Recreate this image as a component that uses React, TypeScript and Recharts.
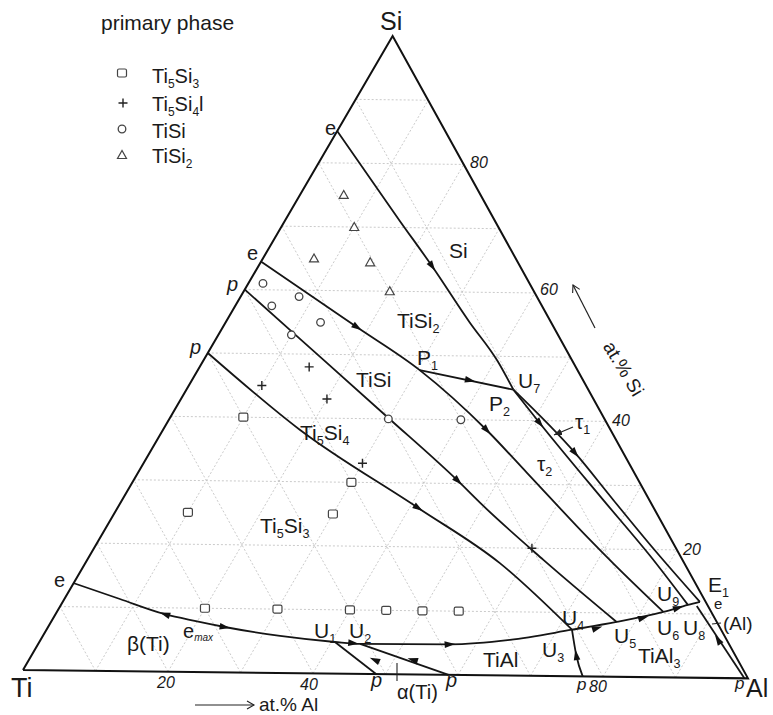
import React from 'react';
import { ScatterChart, Scatter, XAxis, YAxis } from 'recharts';

const W = 773;
const H = 715;
// where the triangle sits on the page; the scan is tilted a little
const X0 = 23;
const Y0 = 670;
const KX = 725.05;
const KY = 737;
const TILT = (0.65 * Math.PI) / 180;
const FONT = '"Liberation Sans", Arial, Helvetica, sans-serif';

// compositions are [at.% Al, at.% Si], Ti is the rest
type P = [number, number];

const CORNERS: P[] = [[0, 0], [100, 0], [0, 100], [0, 0]];
const GRID_STEPS = [10, 20, 30, 40, 50, 60, 70, 80, 90];

// monovariant lines
const E_TO_U7: P[] = [[0, 85], [15.8, 71], [23.8, 64], [33.4, 55.3], [40.3, 49.3], [44.8, 44.8]];
const E_P1_U6: P[] = [[0, 64.4], [18.4, 54.3], [30.4, 47.7], [44.4, 38.4], [53.3, 31.8], [67.3, 21.4], [72.3, 17.8], [83.1, 10.25]];
const P1_U7: P[] = [[30.4, 47.7], [44.8, 44.8]];
const TAU1_LEFT: P[] = [[44.8, 44.8], [51.1, 39.6], [65.9, 27.7], [76.7, 19.1], [85.9, 11.4]];
const TAU1_RIGHT: P[] = [[44.8, 44.8], [58.3, 35.0], [67.3, 27.7], [77.0, 19.9], [87.3, 11.9]];
const P60_U5: P[] = [[0, 60], [10.1, 53.3], [29.7, 40.3], [44.5, 30.4], [49.3, 27.0], [62.5, 18.2], [77.5, 8.6]];
const P50_U4: P[] = [[0, 50], [18.8, 38.1], [41.2, 26.1], [56.8, 17.6], [72.0, 7.3]];
const LOW_VALLEY: P[] = [
  [0, 13.7], [7.6, 11.3], [15.0, 9.0], [19.6, 8.0], [24.2, 7.1], [32.5, 5.8], [40.5, 4.95], [44.1, 4.7],
  [56.4, 4.8], [64.3, 5.6], [72.0, 7.3], [77.5, 8.6], [83.1, 10.25], [85.9, 11.4], [87.3, 11.9],
];
const U1_P: P[] = [[40.5, 4.95], [48.7, 0]];
const U2_P: P[] = [[44.1, 4.7], [58.7, 0]];
const U3_P: P[] = [[72.0, 7.3], [74.6, 3.35], [77.2, 0]];
const U8_P: P[] = [[87.2, 11.25], [99.5, 0]];

// arrow heads: [Al, Si, towards Al, towards Si]
const ARROWS: [number, number, number, number][] = [
  [23.8, 64, 33.4, 55.3],
  [18.4, 54.3, 30.4, 47.7],
  [38.1, 46.2, 44.8, 44.8],
  [44.4, 38.4, 53.3, 31.8],
  [51.1, 39.6, 65.9, 27.7],
  [58.3, 35.0, 67.3, 27.7],
  [44.5, 30.4, 49.3, 27.0],
  [41.2, 26.1, 56.8, 17.6],
  [15.0, 9.0, 7.6, 11.3],
  [24.2, 7.1, 32.5, 5.8],
  [43.1, 4.8, 44.1, 4.7],
  [56.4, 4.8, 64.3, 5.6],
  [75.3, 7.6, 77.5, 8.6],
  [80.8, 9.3, 83.1, 10.25],
  [84.8, 10.9, 85.9, 11.4],
  [47.4, 2.2, 40.5, 4.95],
  [52.6, 2.3, 44.1, 4.7],
  [74.6, 3.35, 72.0, 7.3],
  [92.8, 6.0, 87.2, 11.25],
];

// primary phase of the alloys
const TI5SI3: P[] = [[10, 40], [10, 25], [30, 25], [30, 30], [20, 10], [30, 10], [40, 10], [45, 10], [50, 10], [55, 10]];
const TI5SI4: P[] = [[10, 45], [15, 48], [20, 43], [30, 33], [60, 20]];
const TISI: P[] = [[2, 61], [5, 57.5], [8, 59], [13, 55], [10, 53], [30, 40], [40, 40]];
const TISI2: P[] = [[6, 75], [10, 70], [7, 65], [15, 64.5], [20, 60]];

const toXY = (al: number, si: number) => {
  const a = al / 100;
  const s = si / 100;
  const x = a + s / 2;
  const y = (s * Math.sqrt(3)) / 2;
  return {
    x: x * Math.cos(TILT) + y * Math.sin(TILT),
    y: -x * Math.sin(TILT) + y * Math.cos(TILT),
  };
};
const pts = (list: P[]) => list.map(([al, si]) => toXY(al, si));

const gridLines: P[][] = GRID_STEPS.flatMap((v) => [
  [[0, v], [100 - v, v]] as P[],
  [[v, 0], [v, 100 - v]] as P[],
  [[100 - v, 0], [0, 100 - v]] as P[],
]);

const arrowData = ARROWS.map(([al, si, tal, tsi]) => {
  const p = toXY(al, si);
  const q = toXY(tal, tsi);
  const ang = (Math.atan2(-(q.y - p.y) * KY, (q.x - p.x) * KX) * 180) / Math.PI;
  return { ...p, ang };
});

const Blank = () => <g />;
const ArrowHead = (p: any) => (
  <path d="M5.5,0 L-5,-3.3 L-5,3.3 Z" transform={`translate(${p.cx},${p.cy}) rotate(${p.payload.ang})`} fill="#111" />
);
const MARK = '#444';
const SquareMark = (p: any) => (
  <rect x={p.cx - 4.5} y={p.cy - 4} width={9} height={8} rx={1.5} fill="#fff" stroke={MARK} strokeWidth={1.2} />
);
const PlusMark = (p: any) => (
  <path d={`M${p.cx - 4.5},${p.cy} H${p.cx + 4.5} M${p.cx},${p.cy - 4.5} V${p.cy + 4.5}`} stroke="#222" strokeWidth={1.4} />
);
const CircleMark = (p: any) => <circle cx={p.cx} cy={p.cy} r={3.8} fill="#fff" stroke={MARK} strokeWidth={1.3} />;
const TriMark = (p: any) => (
  <path d={`M${p.cx},${p.cy - 4.5} L${p.cx - 4.5},${p.cy + 3.5} L${p.cx + 4.5},${p.cy + 3.5} Z`} fill="#fff" stroke={MARK} strokeWidth={1.2} />
);

const lineSeries = (key: string, list: P[], opts: { w?: number; color?: string; dash?: string; curve?: any } = {}) => (
  <Scatter
    key={key}
    data={pts(list)}
    shape={Blank}
    isAnimationActive={false}
    lineJointType={opts.curve || 'linear'}
    line={{
      stroke: opts.color || '#151515',
      strokeWidth: opts.w || 1.8,
      strokeDasharray: opts.dash,
      fill: 'none',
    }}
  />
);

function Rich({ x, y, text, size = 21, italic = false, anchor = 'start', transform }: any) {
  const parts: string[] = text.split(/(_\{[^}]*\})/).filter(Boolean);
  const d = size * 0.24;
  return (
    <text x={x} y={y} fontSize={size} fontStyle={italic ? 'italic' : 'normal'} textAnchor={anchor} transform={transform} fill="#1a1a1a">
      {parts.map((s, i) => {
        if (s.startsWith('_{')) {
          return (
            <tspan key={i} fontSize={size * 0.6} dy={d}>
              {s.slice(2, -1)}
            </tspan>
          );
        }
        const prevSub = i > 0 && parts[i - 1].startsWith('_{');
        return (
          <tspan key={i} dy={prevSub ? -d : 0}>
            {s}
          </tspan>
        );
      })}
    </text>
  );
}

function Overlay() {
  return (
    <svg width={W} height={H} style={{ position: 'absolute', left: 0, top: 0, pointerEvents: 'none' }} fontFamily={FONT}>
      <defs>
        <marker id="open" markerWidth="10" markerHeight="10" refX="8" refY="5" orient="auto" markerUnits="userSpaceOnUse">
          <path d="M1,1 L8,5 L1,9" fill="none" stroke="#222" strokeWidth={1.1} />
        </marker>
        <marker id="solid" markerWidth="10" markerHeight="10" refX="8" refY="5" orient="auto" markerUnits="userSpaceOnUse">
          <path d="M0,1.5 L8,5 L0,8.5 Z" fill="#222" />
        </marker>
      </defs>

      {/* legend */}
      <Rich x={101} y={30} text="primary phase" size={21} />
      <SquareMark cx={122} cy={73} />
      <PlusMark cx={123} cy={103} />
      <CircleMark cx={122} cy={129} />
      <TriMark cx={122} cy={155} />
      <Rich x={152} y={83} text="Ti_{5}Si_{3}" size={20} />
      <Rich x={152} y={111} text="Ti_{5}Si_{4}l" size={20} />
      <Rich x={152} y={138} text="TiSi" size={20} />
      <Rich x={152} y={163} text="TiSi_{2}" size={20} />

      {/* corners */}
      <Rich x={380} y={30} text="Si" size={25} />
      <Rich x={11} y={697} text="Ti" size={27} />
      <Rich x={735} y={689} text="p" size={17} italic />
      <Rich x={746} y={697} text="Al" size={25} />

      {/* scale numbers */}
      <Rich x={470} y={168} text="80" size={16} italic />
      <Rich x={540} y={295} text="60" size={16} italic />
      <Rich x={612} y={426} text="40" size={16} italic />
      <Rich x={683} y={555} text="20" size={16} italic />
      <Rich x={157} y={688} text="20" size={16} italic />
      <Rich x={300} y={690} text="40" size={16} italic />
      <Rich x={577} y={690} text="p" size={17} italic />
      <Rich x={589} y={692} text="80" size={16} italic />

      {/* axis titles */}
      <line x1={195} y1={705} x2={254} y2={705} stroke="#222" strokeWidth={1.2} markerEnd="url(#open)" />
      <Rich x={259} y={711} text="at.% Al" size={19} />
      <line x1={595} y1={328} x2={573} y2={285} stroke="#222" strokeWidth={1.2} markerEnd="url(#open)" />
      <Rich x={0} y={0} text="at.% Si" size={19} anchor="middle" transform="translate(618,372) rotate(59)" />

      {/* binary invariant points on the edges */}
      <Rich x={325} y={135} text="e" size={20} />
      <Rich x={247} y={260} text="e" size={20} />
      <Rich x={227} y={291} text="p" size={20} italic />
      <Rich x={190} y={354} text="p" size={20} italic />
      <Rich x={54} y={587} text="e" size={20} />
      <Rich x={371} y={687} text="p" size={20} italic />
      <Rich x={446} y={687} text="p" size={20} italic />
      <line x1={397} y1={663} x2={397} y2={681} stroke="#222" strokeWidth={1.1} />
      <Rich x={397} y={699} text="α(Ti)" size={20} />

      {/* phase fields and ternary points */}
      <Rich x={449} y={258} text="Si" size={21} />
      <Rich x={397} y={328} text="TiSi_{2}" size={21} />
      <Rich x={417} y={365} text="P_{1}" size={21} />
      <Rich x={518} y={388} text="U_{7}" size={21} />
      <Rich x={489} y={411} text="P_{2}" size={21} />
      <Rich x={575} y={429} text="τ_{1}" size={21} />
      <line x1={573} y1={427} x2={554} y2={435} stroke="#222" strokeWidth={1.2} markerEnd="url(#solid)" />
      <Rich x={537} y={471} text="τ_{2}" size={21} />
      <Rich x={356} y={387} text="TiSi" size={21} />
      <Rich x={300} y={440} text="Ti_{5}Si_{4}" size={21} />
      <Rich x={260} y={533} text="Ti_{5}Si_{3}" size={21} />
      <Rich x={127} y={651} text="β(Ti)" size={21} />
      <text x={183} y={638} fontSize={20} fill="#1a1a1a">
        e
        <tspan fontSize={10} fontStyle="italic" dy={3}>
          max
        </tspan>
      </text>
      <Rich x={314} y={638} text="U_{1}" size={21} />
      <Rich x={349} y={638} text="U_{2}" size={21} />
      <Rich x={483} y={667} text="TiAl" size={21} />
      <Rich x={542} y={657} text="U_{3}" size={21} />
      <Rich x={562} y={625} text="U_{4}" size={21} />
      <Rich x={614} y={643} text="U_{5}" size={21} />
      <Rich x={638} y={663} text="TiAl_{3}" size={21} />
      <Rich x={657} y={601} text="U_{9}" size={21} />
      <Rich x={657} y={635} text="U_{6}" size={21} />
      <Rich x={683} y={635} text="U_{8}" size={21} />
      <Rich x={708} y={592} text="E_{1}" size={21} />
      <Rich x={714} y={609} text="e" size={15} />
      <line x1={712} y1={624} x2={721} y2={623} stroke="#222" strokeWidth={1.1} />
      <Rich x={723} y={630} text="(Al)" size={19} />
    </svg>
  );
}

export default function App() {
  const xDom = [-X0 / KX, (W - X0) / KX];
  const yDom = [(Y0 - H) / KY, Y0 / KY];
  return (
    <div style={{ position: 'absolute', left: 0, top: 0, width: W, height: H, background: '#fff', fontFamily: FONT }}>
      <ScatterChart width={W} height={H} margin={{ top: 0, right: 0, bottom: 0, left: 0 }}>
        <XAxis type="number" dataKey="x" domain={xDom} allowDataOverflow hide />
        <YAxis type="number" dataKey="y" domain={yDom} allowDataOverflow hide />
        {gridLines.map((g, i) => lineSeries(`g${i}`, g, { w: 0.9, color: '#c4c4c4', dash: '2 2' }))}
        {lineSeries('frame', CORNERS, { w: 2, color: '#111' })}
        {lineSeries('eU7', E_TO_U7, { curve: 'monotoneX' })}
        {lineSeries('eP1U6', E_P1_U6, { curve: 'monotoneX' })}
        {lineSeries('p1u7', P1_U7)}
        {lineSeries('t1a', TAU1_LEFT, { curve: 'monotoneX' })}
        {lineSeries('t1b', TAU1_RIGHT, { curve: 'monotoneX' })}
        {lineSeries('p60', P60_U5, { curve: 'monotoneX' })}
        {lineSeries('p50', P50_U4, { curve: 'monotoneX' })}
        {lineSeries('valley', LOW_VALLEY, { curve: 'monotoneX' })}
        {lineSeries('u1p', U1_P)}
        {lineSeries('u2p', U2_P)}
        {lineSeries('u3p', U3_P, { curve: 'monotoneX' })}
        {lineSeries('u8p', U8_P)}
        <Scatter data={arrowData} shape={ArrowHead} isAnimationActive={false} />
        <Scatter data={pts(TI5SI3)} shape={SquareMark} isAnimationActive={false} />
        <Scatter data={pts(TI5SI4)} shape={PlusMark} isAnimationActive={false} />
        <Scatter data={pts(TISI)} shape={CircleMark} isAnimationActive={false} />
        <Scatter data={pts(TISI2)} shape={TriMark} isAnimationActive={false} />
      </ScatterChart>
      <Overlay />
    </div>
  );
}
